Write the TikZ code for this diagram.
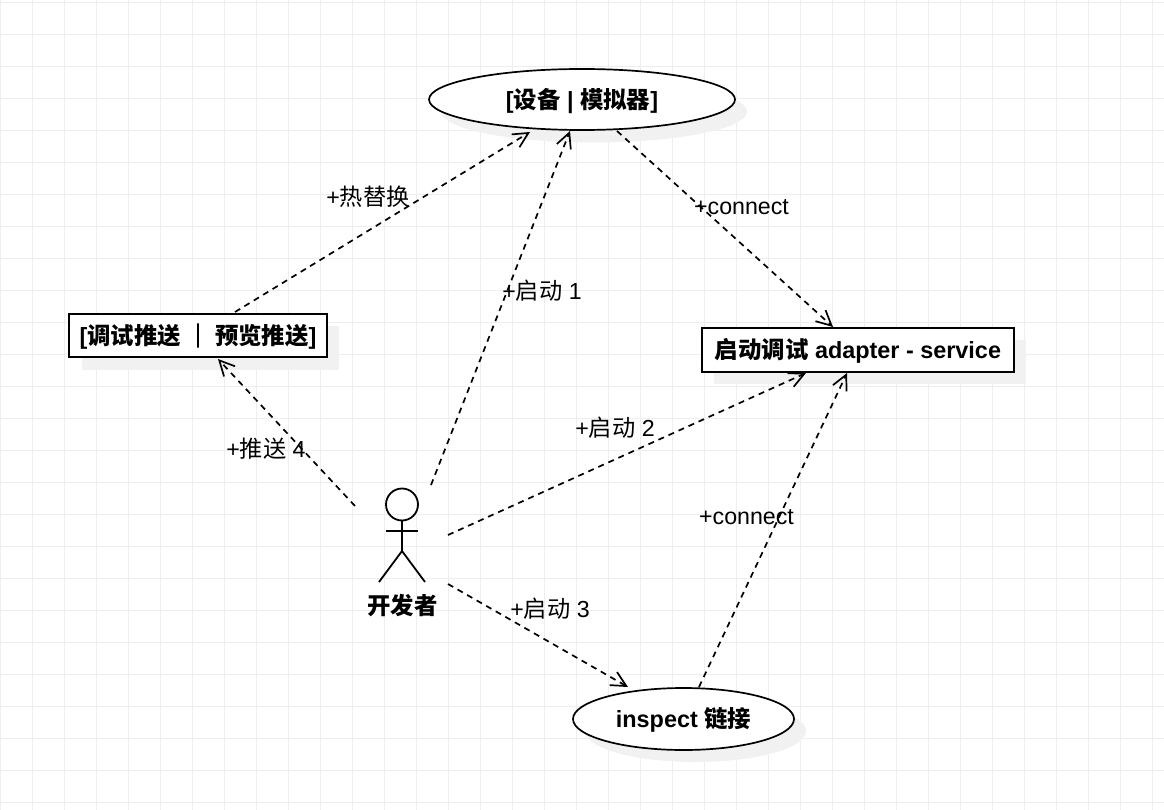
\documentclass[tikz,border=0pt]{standalone}
\usepackage{fontspec}
\setmainfont{Liberation Sans}
\newfontfamily\cjk{Noto Sans CJK SC}
\newfontfamily\cjkbar[FakeBold=4]{Noto Sans CJK SC}
\usetikzlibrary{arrows.meta,shapes.geometric}
\definecolor{gridc}{HTML}{EEEEEE}
\definecolor{shadowc}{HTML}{F1F1F1}
\newcommand{\dnbox}[1]{\raisebox{-8.9pt}[0pt][0pt]{#1}}
\tikzset{
  x=1pt,y=-1pt,
  boxn/.style={draw=black,fill=white,line width=1.7pt,rectangle,inner sep=0pt,font=\fontsize{23.4}{28}\selectfont\bfseries},
  elln/.style={draw=black,fill=white,line width=1.7pt,ellipse,inner sep=0pt,font=\fontsize{23.4}{28}\selectfont\bfseries},
  shade/.style={fill=shadowc,draw=none},
  dep/.style={draw=black,line width=1.7pt,dash pattern=on 6pt off 5pt,-{Straight Barb[length=15pt,width=15pt,line width=1.7pt]}},
  lbl/.style={font=\fontsize{23.2}{28}\selectfont,inner sep=0pt},
  actorline/.style={draw=black,line width=1.8pt},
}
\begin{document}
\begin{tikzpicture}
\useasboundingbox (0,0) rectangle (1164,810);
\fill[white] (0,0) rectangle (1164,810);
\foreach \i in {0,...,36} {\draw[gridc,line width=1pt] ({0.5+32*\i},0) -- ({0.5+32*\i},810);}
\foreach \j in {0,...,25} {\draw[gridc,line width=1pt] (0,{2.5+32*\j}) -- (1164,{2.5+32*\j});}
% shadows
\fill[shade] (594,111.5) ellipse [x radius=153,y radius=31];
\fill[shade] (695.5,731) ellipse [x radius=110.5,y radius=31];
\fill[shade] (81.5,326) rectangle (339,370);
\fill[shade] (714,340) rectangle (1026,384);
% nodes
\node[elln,minimum width=306pt,minimum height=61pt] (device) at (582,99.5) {\dnbox{[{\cjk 设备} | {\cjk 模拟器}]}};
\node[elln,minimum width=221pt,minimum height=62pt] (inspect) at (683.5,719) {\dnbox{inspect {\cjk 链接}}};
\node[boxn,minimum width=258pt,minimum height=43pt] (push) at (198,335.5) {\dnbox{[{\cjk 调试推送 {\cjkbar\mdseries ｜} 预览推送}]}};
\node[boxn,minimum width=312pt,minimum height=44pt] (adapter) at (858,350) {\dnbox{{\cjk 启动调试} adapter - service}};
% actor
\node[circle,draw=black,line width=1.8pt,fill=none,minimum size=32pt,inner sep=0pt] (head) at (402,504.5) {};
\coordinate (hip) at (402,551);
\coordinate (armL) at (386,531);
\coordinate (armR) at (418,531);
\coordinate (footL) at (379,582);
\coordinate (footR) at (425,582);
\draw[actorline] (head.south) -- (hip);
\draw[actorline] (armL) -- (armR);
\draw[actorline] (footL) -- (hip) -- (footR);
\node[inner sep=0pt,font=\fontsize{23.4}{28}\selectfont\bfseries\cjk] (devname) at (402.5,606) {开发者};
% free connector ends
\coordinate (pushTop) at (235,312);
\coordinate (pushIn) at (218,359);
\coordinate (devA) at (530,132);
\coordinate (devB) at (570,131);
\coordinate (devOut) at (617,131);
\coordinate (adA) at (833,327);
\coordinate (adB) at (806,373);
\coordinate (adC) at (847,373);
\coordinate (actA) at (431,485);
\coordinate (actB) at (448,535);
\coordinate (actC) at (448,584);
\coordinate (actD) at (355,506);
\coordinate (insA) at (628,687);
\coordinate (insB) at (699,687);
% connectors
\draw[dep] (pushTop) -- (devA);
\draw[dep] (actA) -- (devB);
\draw[dep] (devOut) -- (adA);
\draw[dep] (actB) -- (adB);
\draw[dep] (insB) -- (adC);
\draw[dep] (actC) -- (insA);
\draw[dep] (actD) -- (pushIn);
% labels
\node[lbl] (l1) at (368,197) {+{\cjk 热替换}};
\node[lbl] (l2) at (542,291) {+{\cjk 启动} 1};
\node[lbl] (l3) at (741.5,207) {+connect};
\node[lbl] (l4) at (615,428) {+{\cjk 启动} 2};
\node[lbl] (l5) at (266,449) {+{\cjk 推送} 4};
\node[lbl] (l6) at (746.5,517) {+connect};
\node[lbl] (l7) at (550,609) {+{\cjk 启动} 3};
\end{tikzpicture}
\end{document}
